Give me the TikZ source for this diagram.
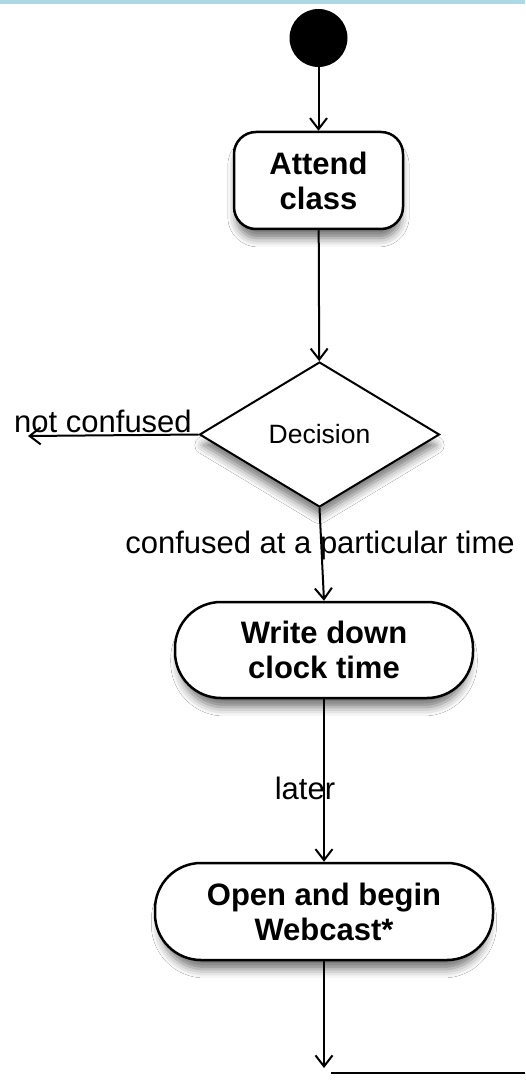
\documentclass[tikz,border=0pt]{standalone}
\usepackage{fontspec}
\setmainfont{Liberation Sans}
\usetikzlibrary{arrows.meta,shapes.geometric,shadows.blur}
\definecolor{bandblue}{RGB}{173,216,230}
\begin{document}
\begin{tikzpicture}[x=1pt,y=-1pt,
  flow/.style={line width=2pt, -{Straight Barb[length=11pt,width=17pt,line width=2pt]}},
  softshadow/.style={blur shadow={shadow xshift=0pt, shadow yshift=-11pt, shadow scale=0.97,
    shadow blur radius=9pt, shadow opacity=55}},
  action/.style={draw, line width=2.5pt, fill=white, softshadow,
    font=\bfseries\fontsize{31}{35}\selectfont, align=center, inner sep=0pt},
  lbl/.style={font=\fontsize{31}{35}\selectfont, inner sep=0pt, anchor=base}]
  % page and top band
  \fill[white] (0,0) rectangle (525,1083);
  \useasboundingbox (0,0) rectangle (525,1083);
  \fill[bandblue] (0,0) rectangle (525,4);

  % nodes
  \node[circle, fill=black, minimum size=58pt, inner sep=0pt] (start) at (318.5,38) {};
  \node[action, minimum width=169pt, minimum height=97pt, rounded corners=22pt] (attend) at (318.5,180.5) {Attend\\class};
  \node[diamond, draw, line width=2pt, fill=white, softshadow, aspect=1.655,
        minimum width=240pt, minimum height=145pt, inner sep=0pt,
        font=\fontsize{26.5}{30}\selectfont] (decision) at (319.5,434.5) {Decision};
  \node[action, minimum width=298pt, minimum height=96pt, rounded corners=46pt] (write) at (324,650) {Write down\\clock time};
  \node[action, minimum width=338pt, minimum height=97pt, rounded corners=46pt] (open) at (324,911.5) {Open and begin\\Webcast*};

  % free ends
  \coordinate (nc) at (28,436);
  \coordinate (finish) at (324,1068);
  \coordinate (b1) at (331,1073);
  \coordinate (b2) at (525,1073);

  % connectors
  \draw[flow] (start) -- (attend);
  \draw[flow] (attend) -- (decision);
  \draw[flow] (decision.west) -- (nc);
  \draw[flow] (decision.south) -- (write.north);
  \draw[flow] (write) -- (open);
  \draw[flow] (open) -- (finish);
  \draw[line width=2pt] (b1) -- (b2);

  % labels
  \node[lbl] (nclabel) at (103,432) {not confused};
  \node[lbl] (clabel) at (320,553) {confused at a particular time};
  \node[lbl] (later) at (305,799) {later};
\end{tikzpicture}
\end{document}
